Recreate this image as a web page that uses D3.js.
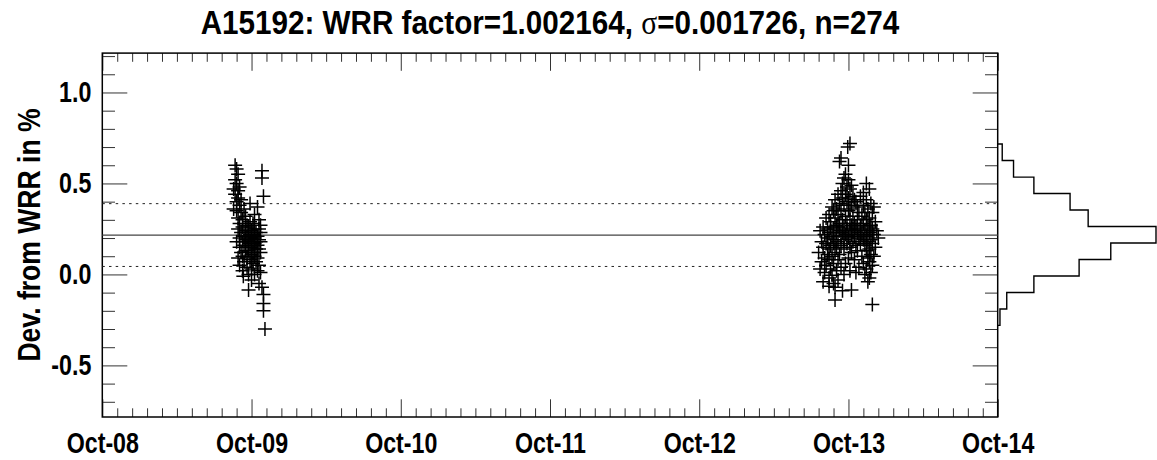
<!DOCTYPE html>
<html><head><meta charset="utf-8">
<script src="https://cdn.jsdelivr.net/npm/d3@7"></script>
<style>body{margin:0;background:#fff} svg{display:block}</style>
</head><body><svg id="c" width="1157" height="460"></svg>
<script>
// ---- data ----
const xTickValues = [8, 9, 10, 11, 12, 13, 14];
const xTickLabels = ["Oct-08", "Oct-09", "Oct-10", "Oct-11", "Oct-12", "Oct-13", "Oct-14"];
const yTickValues = [-0.5, 0, 0.5, 1.0];
const yTickLabels = ["-0.5", "0.0", "0.5", "1.0"];
const meanDev = 0.2164;
const sigmaDev = 0.1726;

// first run (around Oct-09): day, deviation in %
const run1Days = [8.89,8.90,9.07,8.91, 8.89,8.90,8.92,8.88,8.91,9.07,
  8.89,8.91,8.93,8.90,9.08,8.99,8.92,9.04,8.95,8.88,
  8.90,8.93,9.02,8.96,8.91,9.05,8.94,8.99,9.01,8.92,9.06,8.97,
  8.94,8.98,9.02,9.05,8.91,8.96,9.00,9.03,8.93,9.06,8.99,9.01,8.95,9.04,8.97,9.00,8.92,9.02,9.05,8.96,8.98,9.03,8.94,9.01,8.90,9.06,
  8.99,9.02,8.95,9.04,8.97,9.00,8.92,9.03,9.05,8.96,8.98,9.01,8.93,9.06,9.00,8.94,9.02,8.97,9.04,8.91,
  8.99,9.03,8.95,9.01,8.92,9.05,8.97,9.00,8.94,9.04,9.06,8.98,9.02,
  8.945,9.00,9.07,8.98,9.05, 9.08,9.08, 9.08, 9.09];
const run1Dev = [0.60,0.58,0.57,0.55, 0.52,0.50,0.48,0.47,0.46,0.53,
  0.44,0.42,0.41,0.40,0.43,0.39,0.38,0.37,0.36,0.36,
  0.35,0.34,0.33,0.32,0.31,0.30,0.30,0.29,0.28,0.28,0.27,0.27,
  0.26,0.26,0.25,0.25,0.25,0.24,0.24,0.23,0.23,0.23,0.22,0.22,0.21,0.21,0.21,0.20,0.20,0.20,0.19,0.19,0.19,0.18,0.18,0.18,0.18,0.18,
  0.17,0.17,0.16,0.16,0.15,0.15,0.15,0.14,0.14,0.13,0.13,0.12,0.12,0.12,0.11,0.10,0.10,0.09,0.09,0.09,
  0.08,0.07,0.07,0.06,0.05,0.05,0.04,0.03,0.02,0.02,0.01,0.00,0.00,
  -0.01,-0.03,-0.07,-0.085,-0.05, -0.11,-0.16, -0.20, -0.30];

// second run (around Oct-13)
const run2Days = [13.01, 12.995,12.95, 12.94,13.00,12.98,
  13.12,12.97,13.00,12.96,13.02,12.99,13.14,12.95,13.01,13.10,
  12.93,12.98,13.03,13.08,12.96,13.00,13.12,12.91,13.05,12.99,13.15,12.94,13.02,13.10,12.97,12.89,13.06,13.13,13.01,12.92,13.17,13.04,
  12.90,12.95,13.00,13.07,13.11,13.16,12.87,12.93,12.98,13.03,13.09,13.14,12.85,12.91,12.96,13.01,13.06,13.12,13.18,12.88,12.94,12.99,13.04,13.10,13.15,12.92,13.02,13.08,
  12.83,12.88,12.93,12.97,13.05,13.13, 12.86,12.90,12.99,13.03,13.08,13.16, 12.81,12.94,13.01,13.11,13.19,
  12.87,12.92,12.96,13.06,13.14, 12.84,12.98,13.02,13.09,13.17, 12.89,12.95,13.04,13.12,13.20,
  12.86,13.00,13.07,13.15, 12.91,12.97,13.10,12.82, 13.03,13.13,12.93,
  12.85,12.90,12.99,13.08,13.16, 12.88,12.95,13.05,13.11,13.18, 12.83,12.92,13.01,13.14,
  12.87,12.97,13.06,13.12, 12.80,12.91,13.02,13.15, 12.86,12.94,13.09,13.17, 12.89,13.00,13.13,12.84,
  12.87,12.93,13.04,13.14, 12.82,12.90,12.98,13.10,13.16, 12.85,12.95,13.07,13.12,
  12.88,12.92,13.01,13.15, 12.84,12.97,13.11,12.89,12.81,13.05,
  12.87,12.93,13.14,12.83,12.90,13.13,12.87,13.02,12.91,12.96,
  12.91,13.16];
const run2Dev = [0.72, 0.70,0.64, 0.62,0.60,0.55,
  0.50,0.53,0.52,0.50,0.49,0.48,0.47,0.46,0.47,0.45,
  0.44,0.44,0.43,0.43,0.42,0.42,0.41,0.41,0.40,0.40,0.39,0.39,0.38,0.38,0.38,0.37,0.37,0.36,0.36,0.36,0.37,0.41,
  0.35,0.35,0.35,0.34,0.34,0.34,0.33,0.33,0.32,0.32,0.32,0.31,0.31,0.31,0.30,0.30,0.30,0.30,0.29,0.29,0.28,0.28,0.28,0.28,0.27,0.27,0.27,0.27,
  0.26,0.26,0.26,0.26,0.26,0.26, 0.25,0.25,0.25,0.25,0.25,0.25, 0.24,0.24,0.24,0.24,0.24,
  0.23,0.23,0.23,0.23,0.23, 0.22,0.22,0.22,0.22,0.22, 0.21,0.21,0.21,0.21,0.20,
  0.20,0.20,0.20,0.19, 0.19,0.19,0.19,0.18, 0.18,0.18,0.18,
  0.17,0.17,0.17,0.17,0.17, 0.16,0.16,0.16,0.16,0.15, 0.15,0.15,0.15,0.14,
  0.14,0.14,0.13,0.13, 0.12,0.12,0.12,0.11, 0.11,0.11,0.10,0.10, 0.10,0.09,0.09,0.09,
  0.08,0.08,0.08,0.07, 0.07,0.06,0.06,0.06,0.05, 0.05,0.04,0.04,0.03,
  0.03,0.02,0.02,0.01, 0.01,0.00,0.00,-0.005,0.03,0.01,
  -0.02,-0.03,-0.02,-0.04,-0.05,-0.04,-0.065,-0.085,-0.07,-0.09,
  -0.14,-0.165];

// side histogram: bin edges (deviation %) and counts, top to bottom
const histEdges = [0.717, 0.626, 0.535, 0.445, 0.354, 0.263, 0.173, 0.082, -0.009, -0.099, -0.190, -0.280];
const histCounts = [2, 7, 16, 32, 40, 70, 50, 36, 16, 4, 1];

// ---- drawing ----
const svg = d3.select("#c");
const L = 102.3, R = 997.7, T = 53.1, B = 417;
const x = d3.scaleLinear().domain([8, 14]).range([L, R]);
const y = d3.scaleLinear().domain([meanDev - 1, meanDev + 1]).range([B, T]);
const FONT = "'Liberation Sans',Arial,Helvetica,sans-serif";
const NARROW = 0.8;

const xMinor = d3.range(80, 141).map(v => v / 10).filter(v => Math.abs(v - Math.round(v)) > 1e-6);
const yMinor = d3.range(-7, 13).map(v => v / 10).filter(v => Math.abs(v * 2 - Math.round(v * 2)) > 1e-6);

function styleAxis(g) {
  g.select(".domain").remove();
  g.selectAll(".tick line").attr("stroke", "#333").attr("stroke-width", 1);
  g.selectAll("text").attr("font-family", FONT).attr("font-weight", "bold")
    .attr("font-size", 29).attr("fill", "#000");
}

// bottom
svg.append("g").attr("transform", `translate(0,${B})`)
  .call(d3.axisBottom(x).tickValues(xTickValues).tickSize(-17.7).tickPadding(15)
    .tickFormat((d, i) => xTickLabels[i])).call(styleAxis)
  .selectAll("text").attr("transform", `scale(${NARROW},1)`);
svg.append("g").attr("transform", `translate(0,${B})`)
  .call(d3.axisBottom(x).tickValues(xMinor).tickSize(-8.7).tickFormat("")).call(styleAxis);
// top
svg.append("g").attr("transform", `translate(0,${T})`)
  .call(d3.axisTop(x).tickValues(xTickValues).tickSize(-17.7).tickFormat("")).call(styleAxis);
svg.append("g").attr("transform", `translate(0,${T})`)
  .call(d3.axisTop(x).tickValues(xMinor).tickSize(-8.7).tickFormat("")).call(styleAxis);
// left
svg.append("g").attr("transform", `translate(${L},0)`)
  .call(d3.axisLeft(y).tickValues(yTickValues).tickSize(-25).tickPadding(11)
    .tickFormat((d, i) => yTickLabels[i])).call(styleAxis)
  .selectAll("text").attr("x", -11 / NARROW).attr("transform", `scale(${NARROW},1)`);
svg.append("g").attr("transform", `translate(${L},0)`)
  .call(d3.axisLeft(y).tickValues(yMinor).tickSize(-12.7).tickFormat("")).call(styleAxis);
// right
svg.append("g").attr("transform", `translate(${R},0)`)
  .call(d3.axisRight(y).tickValues(yTickValues).tickSize(-25).tickFormat("")).call(styleAxis);
svg.append("g").attr("transform", `translate(${R},0)`)
  .call(d3.axisRight(y).tickValues(yMinor).tickSize(-12.7).tickFormat("")).call(styleAxis);

// frame
svg.append("rect").attr("x", L).attr("y", T).attr("width", R - L).attr("height", B - T)
  .attr("fill", "none").attr("stroke", "#000").attr("stroke-width", 1.5);

// mean and +/- sigma lines
svg.append("line").attr("x1", L).attr("x2", R).attr("y1", y(meanDev)).attr("y2", y(meanDev))
  .attr("stroke", "#444").attr("stroke-width", 1.2);
[meanDev + sigmaDev, meanDev - sigmaDev].forEach(v => {
  svg.append("line").attr("x1", L).attr("x2", R).attr("y1", y(v)).attr("y2", y(v))
    .attr("stroke", "#222").attr("stroke-width", 1).attr("stroke-dasharray", "2.5,4.2");
});

// markers
const pts = run1Days.map((d, i) => [d, run1Dev[i]]).concat(run2Days.map((d, i) => [d, run2Dev[i]]));
const s = 7;
svg.append("g").selectAll("path").data(pts).join("path")
  .attr("d", d => { const px = x(d[0]), py = y(d[1]);
    return `M${px - s},${py}H${px + s}M${px},${py - s}V${py + s}`; })
  .attr("stroke", "#000").attr("stroke-width", 1.5).attr("fill", "none");

// side histogram (step outline)
const hx = d3.scaleLinear().domain([0, d3.max(histCounts)]).range([R, 1156]);
const hp = d3.path();
hp.moveTo(hx(0), y(histEdges[0]));
histCounts.forEach((c, i) => { hp.lineTo(hx(c), y(histEdges[i])); hp.lineTo(hx(c), y(histEdges[i + 1])); });
hp.lineTo(hx(0), y(histEdges[histEdges.length - 1]));
svg.append("path").attr("d", hp.toString()).attr("fill", "none").attr("stroke", "#000").attr("stroke-width", 1.4);

// title
const title = svg.append("text").attr("transform", "translate(550,34) scale(0.872,1)").attr("text-anchor", "middle")
  .attr("font-family", FONT).attr("font-weight", "bold").attr("font-size", 34);
title.append("tspan").text("A15192: WRR factor=1.002164, ");
title.append("tspan").attr("font-family", "'Liberation Serif',serif").attr("font-weight", "normal").text("σ");
title.append("tspan").text("=0.001726, n=274");

// y title
svg.append("text").attr("transform", "translate(40,235) rotate(-90) scale(0.83,1)").attr("text-anchor", "middle")
  .attr("font-family", FONT).attr("font-weight", "bold").attr("font-size", 32).text("Dev. from WRR in %");
</script>
</body></html>
